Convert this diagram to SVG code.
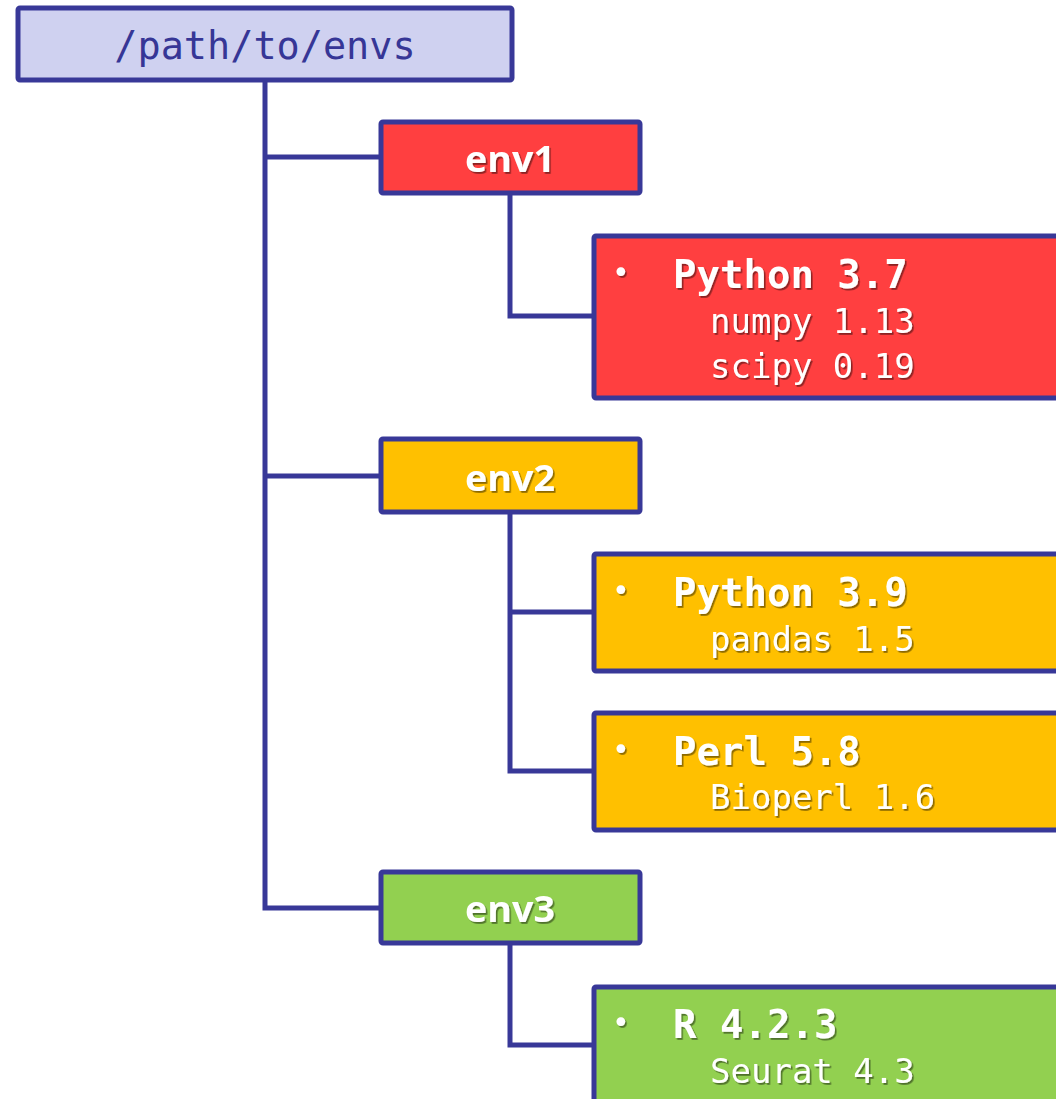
<svg xmlns="http://www.w3.org/2000/svg" width="1056" height="1099" viewBox="0 0 1056 1099">
<defs>
<filter id="sh" x="-10%" y="-20%" width="130%" height="150%">
<feDropShadow dx="1.6" dy="1.8" stdDeviation="0.7" flood-color="#000" flood-opacity="0.45"/>
</filter>
<style>
.box{stroke:#383898;stroke-width:5;stroke-linejoin:round}
.conn{fill:none;stroke:#383898;stroke-width:5;stroke-linejoin:miter}
.root{font-family:"DejaVu Sans Mono","Liberation Mono",monospace;font-size:38.5px;fill:#363696}
.env{font-family:"Open Sans",Lato,sans-serif;font-weight:bold;font-size:35px;fill:#fff;filter:url(#sh)}
.hd{font-family:"DejaVu Sans Mono","Liberation Mono",monospace;font-weight:bold;font-size:39px;fill:#fff;filter:url(#sh)}
.sub{font-family:"DejaVu Sans Mono","Liberation Mono",monospace;font-size:34px;fill:#fff;filter:url(#sh)}
.bul{font-family:"DejaVu Sans",sans-serif;font-size:30px;fill:#fff;filter:url(#sh)}
.red{fill:#FF3F40}.yel{fill:#FFC000}.grn{fill:#92D050}
</style>
</defs>
<g id="connectors">
<path class="conn" d="M265,80 V908 H381 M265,157 H381 M265,476 H381"/>
<path class="conn" d="M510,193 V316 H594"/>
<path class="conn" d="M510,512 V771 H594 M510,612 H594"/>
<path class="conn" d="M510,943 V1045 H594"/>
</g>
<g id="root">
<rect class="box" x="18" y="8" width="494" height="72" rx="2" fill="#CFD1F0"/>
<text class="root" x="265" y="59" text-anchor="middle">/path/to/envs</text>
</g>
<g id="env1">
<rect class="box red" x="381" y="122" width="259" height="71" rx="2"/>
<text class="env" x="465" y="172" textLength="90" lengthAdjust="spacingAndGlyphs">env1</text>
</g>
<g id="env1-pkgs">
<rect class="box red" x="594" y="236" width="480" height="162" rx="2"/>
<text class="bul" x="612" y="283">•</text>
<text class="hd" x="673" y="288">Python 3.7</text>
<text class="sub" x="710" y="333">numpy 1.13</text>
<text class="sub" x="710" y="378">scipy 0.19</text>
</g>
<g id="env2">
<rect class="box yel" x="381" y="439" width="259" height="73" rx="2"/>
<text class="env" x="465" y="491" textLength="90" lengthAdjust="spacingAndGlyphs">env2</text>
</g>
<g id="env2-python">
<rect class="box yel" x="594" y="554" width="480" height="117" rx="2"/>
<text class="bul" x="612" y="601">•</text>
<text class="hd" x="673" y="606">Python 3.9</text>
<text class="sub" x="710" y="651">pandas 1.5</text>
</g>
<g id="env2-perl">
<rect class="box yel" x="594" y="713" width="480" height="117" rx="2"/>
<text class="bul" x="612" y="760">•</text>
<text class="hd" x="673" y="765">Perl 5.8</text>
<text class="sub" x="710" y="809">Bioperl 1.6</text>
</g>
<g id="env3">
<rect class="box grn" x="381" y="872" width="259" height="71" rx="2"/>
<text class="env" x="465" y="922" textLength="90" lengthAdjust="spacingAndGlyphs">env3</text>
</g>
<g id="env3-pkgs">
<rect class="box grn" x="594" y="987" width="480" height="140" rx="2"/>
<text class="bul" x="612" y="1033">•</text>
<text class="hd" x="673" y="1038">R 4.2.3</text>
<text class="sub" x="710" y="1083">Seurat 4.3</text>
</g>
</svg>
